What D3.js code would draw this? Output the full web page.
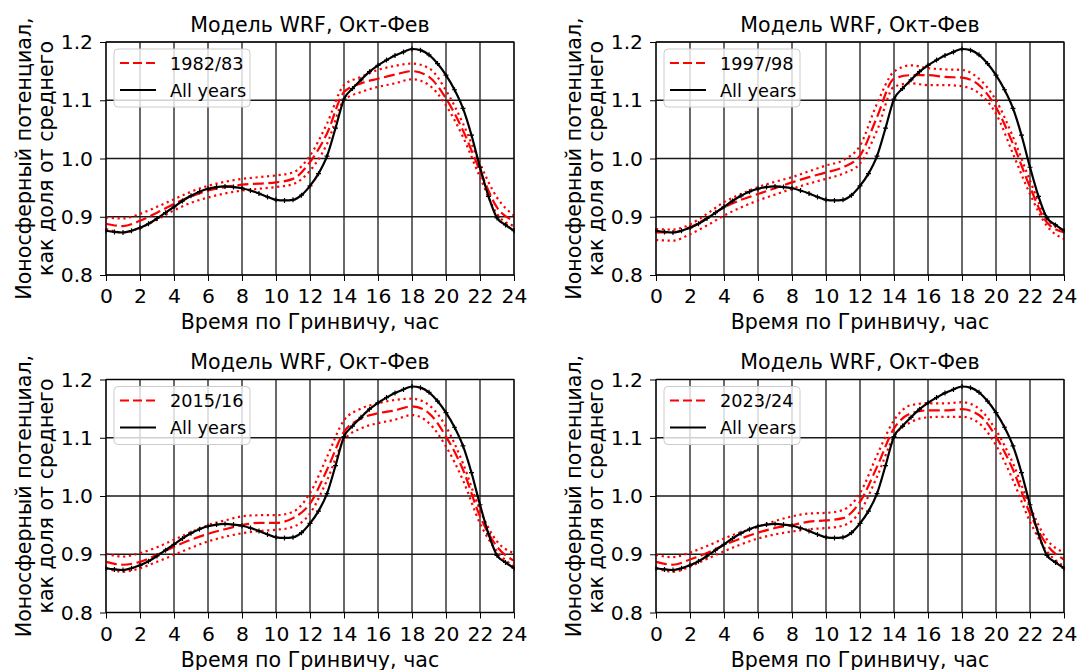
<!DOCTYPE html>
<html><head><meta charset="utf-8">
<script src="https://cdn.jsdelivr.net/npm/d3@7"></script>
<style>
body{margin:0;background:#fff}
svg{display:block}
text{font-family:"DejaVu Sans",sans-serif;fill:#000}
</style>
</head><body>
<svg id="c" width="1078" height="670"></svg>
<script>
// ---------- data ----------
const hoursHourly = [0,1,2,3,4,5,6,7,8,9,10,11,12,13,14,15,16,17,18,19,20,21,22,23,24];
const hoursHalf = [0,0.5,1,1.5,2,2.5,3,3.5,4,4.5,5,5.5,6,6.5,7,7.5,8,8.5,9,9.5,10,10.5,11,11.5,12,12.5,13,13.5,14,14.5,15,15.5,16,16.5,17,17.5,18,18.5,19,19.5,20,20.5,21,21.5,22,22.5,23,23.5,24];
const allYears = [0.876,0.874,0.873,0.876,0.881,0.888,0.897,0.907,0.917,0.927,0.936,0.943,0.948,0.951,0.952,0.951,0.949,0.945,0.940,0.934,0.929,0.928,0.929,0.937,0.953,0.974,1.004,1.052,1.102,1.120,1.135,1.149,1.160,1.169,1.177,1.183,1.188,1.186,1.178,1.163,1.143,1.118,1.086,1.040,0.985,0.935,0.898,0.886,0.876];

const yearLabels = ["1982/83","1997/98","2015/16","2023/24"];

const mean1982  = [0.888,0.884,0.893,0.907,0.922,0.935,0.945,0.951,0.955,0.957,0.959,0.965,0.994,1.043,1.114,1.129,1.137,1.144,1.150,1.140,1.103,1.048,0.979,0.916,0.893];
const upper1982 = [0.899,0.897,0.905,0.917,0.930,0.943,0.953,0.960,0.965,0.968,0.971,0.976,1.005,1.060,1.126,1.140,1.152,1.159,1.163,1.155,1.117,1.060,0.991,0.933,0.902];
const lower1982 = [0.879,0.873,0.881,0.895,0.911,0.924,0.933,0.940,0.945,0.948,0.951,0.956,0.979,1.025,1.100,1.114,1.123,1.129,1.136,1.126,1.091,1.037,0.968,0.905,0.884];

const mean1997  = [0.873,0.873,0.882,0.898,0.916,0.929,0.939,0.949,0.959,0.968,0.976,0.985,1.005,1.071,1.137,1.143,1.143,1.140,1.139,1.126,1.088,1.025,0.951,0.890,0.873];
const upper1997 = [0.879,0.878,0.887,0.905,0.925,0.939,0.951,0.960,0.968,0.978,0.988,0.997,1.022,1.094,1.149,1.160,1.155,1.153,1.152,1.137,1.100,1.037,0.962,0.896,0.877];
const lower1997 = [0.860,0.859,0.870,0.885,0.902,0.916,0.928,0.938,0.948,0.957,0.965,0.974,0.991,1.048,1.123,1.129,1.126,1.126,1.124,1.112,1.077,1.008,0.939,0.884,0.862];

const mean2015  = [0.887,0.882,0.887,0.899,0.913,0.925,0.935,0.943,0.950,0.954,0.954,0.962,0.987,1.045,1.110,1.133,1.142,1.147,1.154,1.142,1.102,1.045,0.965,0.913,0.889];
const upper2015 = [0.901,0.896,0.902,0.912,0.925,0.938,0.950,0.958,0.965,0.967,0.967,0.973,1.005,1.067,1.130,1.150,1.159,1.165,1.167,1.156,1.119,1.056,0.976,0.922,0.902];
const lower2015 = [0.876,0.870,0.876,0.887,0.899,0.911,0.922,0.930,0.936,0.940,0.942,0.947,0.970,1.027,1.096,1.116,1.125,1.131,1.139,1.125,1.085,1.027,0.953,0.905,0.879];

const mean2023  = [0.887,0.882,0.891,0.902,0.916,0.927,0.937,0.945,0.950,0.956,0.958,0.962,0.990,1.050,1.116,1.142,1.147,1.147,1.149,1.139,1.102,1.045,0.970,0.916,0.891];
const upper2023 = [0.899,0.895,0.903,0.914,0.927,0.938,0.947,0.957,0.965,0.970,0.971,0.976,1.005,1.070,1.130,1.156,1.159,1.159,1.161,1.150,1.113,1.056,0.982,0.925,0.903];
const lower2023 = [0.876,0.870,0.879,0.892,0.905,0.917,0.927,0.934,0.939,0.943,0.945,0.949,0.973,1.033,1.102,1.127,1.135,1.136,1.136,1.125,1.087,1.027,0.956,0.905,0.879];

const xTicks = [0,2,4,6,8,10,12,14,16,18,20,22,24];
const yTicks = [0.8,0.9,1.0,1.1,1.2];
const yTickLabels = ["0.8","0.9","1.0","1.1","1.2"];
const titleText = "Модель WRF, Окт-Фев";
const xLabelText = "Время по Гринвичу, час";
const yLabelLine1 = "Ионосферный потенциал,";
const yLabelLine2 = "как доля от среднего";
const allYearsLabel = "All years";

// ---------- drawing ----------
const svg = d3.select("#c");
const W = 408, H = 233;
const layout = [
  {left:106, top:42},
  {left:656, top:42},
  {left:106, top:379.5},
  {left:656, top:379.5}
];
const seriesSets = [
  {mean:mean1982, upper:upper1982, lower:lower1982},
  {mean:mean1997, upper:upper1997, lower:lower1997},
  {mean:mean2015, upper:upper2015, lower:lower2015},
  {mean:mean2023, upper:upper2023, lower:lower2023}
];

const x = d3.scaleLinear().domain([0,24]).range([0,W]);
const y = d3.scaleLinear().domain([0.8,1.2]).range([H,0]);

layout.forEach((pos,i)=>{
  const s = seriesSets[i];
  const g = svg.append("g").attr("transform",`translate(${pos.left},${pos.top})`);

  g.append("clipPath").attr("id","clip"+i)
    .append("rect").attr("x",-1).attr("y",-1).attr("width",W+2).attr("height",H+2);

  // grid
  g.append("g").selectAll("line").data(xTicks).join("line")
    .attr("x1",d=>x(d)).attr("x2",d=>x(d)).attr("y1",0).attr("y2",H)
    .attr("stroke","#1a1a1a").attr("stroke-width",1.3);
  g.append("g").selectAll("line").data(yTicks).join("line")
    .attr("x1",0).attr("x2",W).attr("y1",d=>y(d)).attr("y2",d=>y(d))
    .attr("stroke","#1a1a1a").attr("stroke-width",1.3);

  // axes
  const xa = g.append("g").attr("transform",`translate(0,${H})`)
    .call(d3.axisBottom(x).tickValues(xTicks).tickSize(6).tickPadding(8).tickFormat(d3.format("d")));
  const ya = g.append("g")
    .call(d3.axisLeft(y).tickValues(yTicks).tickSize(6).tickPadding(7).tickFormat((d,j)=>yTickLabels[j]));
  [xa,ya].forEach(a=>{
    a.select(".domain").remove();
    a.selectAll("line").attr("stroke","#000").attr("stroke-width",1);
    a.selectAll("text").attr("font-size",20.3).attr("font-family","DejaVu Sans").attr("fill","#000");
  });

  const plot = g.append("g").attr("clip-path",`url(#clip${i})`);
  const lineH = d3.line().x((d,j)=>x(hoursHourly[j])).y(d=>y(d)).curve(d3.curveMonotoneX);
  const lineHalf = d3.line().x((d,j)=>x(hoursHalf[j])).y(d=>y(d)).curve(d3.curveMonotoneX);

  [s.upper, s.lower].forEach(arr=>{
    plot.append("path").attr("d",lineH(arr)).attr("fill","none")
      .attr("stroke","#ff0000").attr("stroke-width",2.2)
      .attr("stroke-dasharray","2.2,3.6");
  });
  plot.append("path").attr("d",lineH(s.mean)).attr("fill","none")
    .attr("stroke","#ff0000").attr("stroke-width",2.2)
    .attr("stroke-dasharray","11,4.5");

  plot.append("path").attr("d",lineHalf(allYears)).attr("fill","none")
    .attr("stroke","#000").attr("stroke-width",2.2);
  plot.append("g").selectAll("path").data(allYears).join("path")
    .attr("transform",(d,j)=>`translate(${x(hoursHalf[j])},${y(d)})`)
    .attr("d","M-2.5,0H2.5M0,-2.5V2.5")
    .attr("stroke","#000").attr("stroke-width",1.2);

  // spines
  g.append("rect").attr("width",W).attr("height",H)
    .attr("fill","none").attr("stroke","#000").attr("stroke-width",1);

  // legend
  const lg = g.append("g").attr("transform","translate(8,7)");
  lg.append("rect").attr("width",136).attr("height",58).attr("rx",4)
    .attr("fill","#fff").attr("fill-opacity",0.8).attr("stroke","#cccccc").attr("stroke-width",1);
  lg.append("line").attr("x1",6).attr("x2",42).attr("y1",14).attr("y2",14)
    .attr("stroke","#ff0000").attr("stroke-width",2.2).attr("stroke-dasharray","9,4");
  lg.append("text").attr("x",56).attr("y",20.5).attr("font-size",17.7).text(yearLabels[i]);
  lg.append("line").attr("x1",6).attr("x2",42).attr("y1",41).attr("y2",41)
    .attr("stroke","#000").attr("stroke-width",2.2);
  lg.append("text").attr("x",56).attr("y",47.5).attr("font-size",17.7).text(allYearsLabel);

  // title
  g.append("text").attr("x",W/2).attr("y",-10.5).attr("text-anchor","middle")
    .attr("font-size",20.6).text(titleText);
  // x label
  g.append("text").attr("x",W/2).attr("y",H+54).attr("text-anchor","middle")
    .attr("font-size",20.6).text(xLabelText);
  // y label
  const yl = g.append("g").attr("transform",`translate(0,${H/2}) rotate(-90)`);
  yl.append("text").attr("x",0).attr("y",-75).attr("text-anchor","middle")
    .attr("font-size",20.6).text(yLabelLine1);
  yl.append("text").attr("x",0).attr("y",-53).attr("text-anchor","middle")
    .attr("font-size",20.6).text(yLabelLine2);
});
</script>
</body></html>
